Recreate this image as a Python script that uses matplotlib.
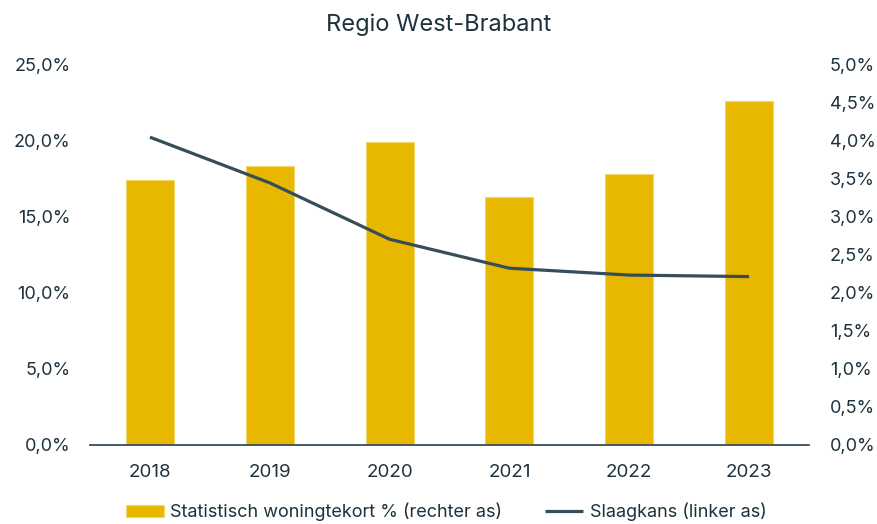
import numpy as np
import matplotlib.pyplot as plt
from matplotlib.ticker import FuncFormatter

plt.rcParams['font.family'] = ['Inter', 'DejaVu Sans']

jaren = ['2018', '2019', '2020', '2021', '2022', '2023']
# statistisch woningtekort in % (rechter as)
woningtekort = [3.48, 3.66, 3.97, 3.25, 3.56, 4.52]
# slaagkans in % (linker as)
slaagkans = [20.2, 17.2, 13.5, 11.6, 11.15, 11.05]

geel = '#E8B800'
donker = '#364E5A'
tekst = '#1E323D'


def pct(v, pos):
    return '{0:.1f}%'.format(v).replace('.', ',')


fig = plt.figure(figsize=(8.78, 5.24), dpi=100)
ax = fig.add_axes([90 / 878, 79 / 524, 719 / 878, 381 / 524])
ax2 = ax.twinx()

x = np.arange(len(jaren))

# bars on the right axis, gridlines drawn there so they stay behind the bars
ax2.bar(x, woningtekort, width=0.4, color=geel, edgecolor='#F3D66A',
        linewidth=0.8, label='Statistisch woningtekort % (rechter as)')
ax2.set_ylim(0, 5)
ax2.set_yticks(np.arange(0, 5.01, 0.5))
ax2.set_yticks(np.arange(0, 5.01, 1.0), minor=True)
ax2.yaxis.set_major_formatter(FuncFormatter(pct))
ax2.grid(which='minor', axis='y', color='#D0D0D0', linewidth=1.2)
ax2.tick_params(axis='y', which='both', length=0, pad=15,
                labelsize=13, labelcolor=tekst)

# line on the left axis, kept on top
ax.set_zorder(ax2.get_zorder() + 1)
ax.patch.set_visible(False)
ax.plot(x, slaagkans, color=donker, linewidth=2.3, solid_capstyle='butt',
        label='Slaagkans (linker as)')
ax.set_ylim(0, 25)
ax.set_yticks(np.arange(0, 25.01, 5))
ax.yaxis.set_major_formatter(FuncFormatter(pct))
ax.set_xlim(-0.5, len(jaren) - 0.5)
ax.set_xticks(x)
ax.set_xticklabels(jaren)
ax.tick_params(axis='y', length=0, pad=14, labelsize=13, labelcolor=tekst)
ax.tick_params(axis='x', length=0, pad=14, labelsize=13.5, labelcolor=tekst)

for a in (ax, ax2):
    for s in a.spines.values():
        s.set_visible(False)
ax.spines['bottom'].set_visible(True)
ax.spines['bottom'].set_color(donker)
ax.spines['bottom'].set_linewidth(1.3)

fig.suptitle('Regio West-Brabant', y=0.975, fontsize=17, color=tekst)

h1, l1 = ax2.get_legend_handles_labels()
h2, l2 = ax.get_legend_handles_labels()
fig.legend(h1 + h2, l1 + l2, loc='center', bbox_to_anchor=(0.508, 0.023),
           ncol=2, frameon=False, fontsize=13, labelcolor=tekst,
           handlelength=2.1, handleheight=0.6, handletextpad=0.35,
           columnspacing=2.4)

fig.savefig('out.png', dpi=100)
